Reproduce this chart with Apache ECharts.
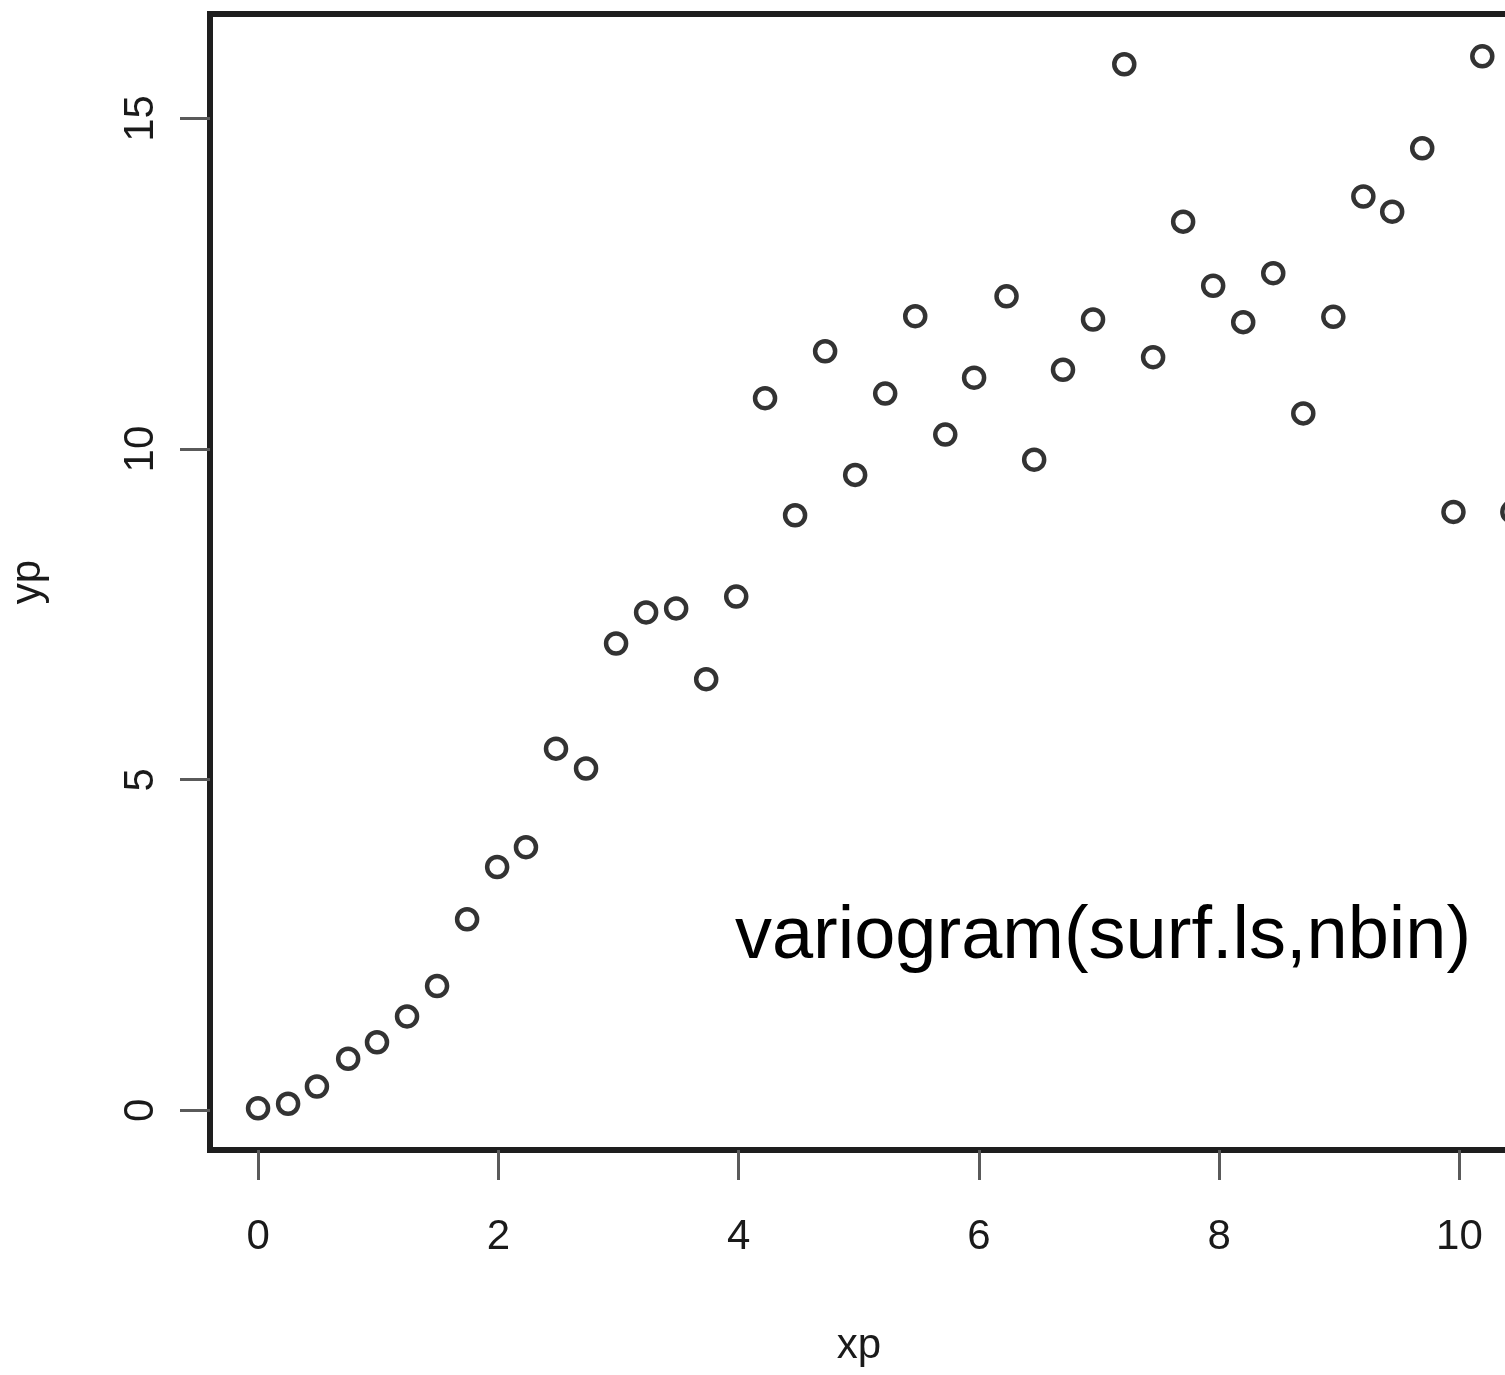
<!DOCTYPE html>
<html>
<head>
<meta charset="utf-8">
<script src="https://cdn.jsdelivr.net/npm/echarts@6/dist/echarts.min.js"></script>
<style>
  html, body { margin: 0; padding: 0; background: #ffffff; }
  #chart { width: 1505px; height: 1375px; }
</style>
</head>
<body>
<div id="chart"></div>
<script>
// Data
const xp = [0.00, 0.25, 0.49, 0.75, 0.99, 1.24, 1.49, 1.74, 1.99, 2.23,
            2.48, 2.73, 2.98, 3.23, 3.48, 3.73, 3.98, 4.22, 4.47, 4.72,
            4.97, 5.22, 5.47, 5.72, 5.96, 6.23, 6.46, 6.70, 6.95, 7.21,
            7.45, 7.70, 7.95, 8.20, 8.45, 8.70, 8.95, 9.20, 9.44, 9.69,
            9.95, 10.19, 10.44];
const yp = [0.03, 0.10, 0.36, 0.78, 1.03, 1.42, 1.88, 2.89, 3.68, 3.98,
            5.47, 5.17, 7.06, 7.53, 7.59, 6.52, 7.77, 10.77, 9.00, 11.48,
            9.61, 10.84, 12.01, 10.22, 11.08, 12.31, 9.84, 11.20, 11.96, 15.82,
            11.39, 13.44, 12.47, 11.92, 12.66, 10.54, 12.00, 13.82, 13.59, 14.55,
            9.05, 15.94, 9.05];
const xTicks = [0, 2, 4, 6, 8, 10];
const yTicks = [0, 5, 10, 15];
const xName = 'xp';
const yName = 'yp';
const annotation = 'variogram(surf.ls,nbin)';

const points = xp.map((x, i) => [x, yp[i]]);
const FONT = '"Liberation Sans", Arial, Helvetica, sans-serif';

const chart = echarts.init(document.getElementById('chart'), null, { renderer: 'canvas' });
chart.setOption({
  backgroundColor: '#ffffff',
  animation: false,
  grid: {
    left: 210, top: 14, width: 1360, height: 1136,
    outerBoundsMode: 'none',
    containLabel: false,
    show: true, borderColor: '#1e1e1e', borderWidth: 6, backgroundColor: 'transparent'
  },
  xAxis: {
    type: 'value', min: -0.4, max: 10.92,
    axisLine: { show: false, onZero: false },
    splitLine: { show: false },
    axisTick: { show: true, customValues: xTicks, length: 30, lineStyle: { color: '#5a5a5a', width: 3 } },
    axisLabel: { show: true, customValues: xTicks, margin: 66, fontSize: 42, fontFamily: FONT, color: '#1a1a1a' }
  },
  yAxis: {
    type: 'value', min: -0.6, max: 16.58,
    axisLine: { show: false, onZero: false },
    splitLine: { show: false },
    axisTick: { show: true, customValues: yTicks, length: 30, lineStyle: { color: '#5a5a5a', width: 3 } },
    axisLabel: { show: true, customValues: yTicks, rotate: 90, margin: 48, fontSize: 42, fontFamily: FONT, color: '#1a1a1a' }
  },
  series: [{
    type: 'scatter',
    data: points,
    symbol: 'circle',
    symbolSize: 20,
    itemStyle: { color: 'rgba(0,0,0,0)', borderColor: '#000000', borderWidth: 4.5 },
    emphasis: { disabled: true }
  }],
  graphic: [
    { type: 'text', x: 859, y: 1346, style: { text: xName, font: '42px ' + FONT, fill: '#1a1a1a', textAlign: 'center', textVerticalAlign: 'middle' } },
    { type: 'text', x: 28, y: 582, rotation: Math.PI / 2, style: { text: yName, font: '42px ' + FONT, fill: '#1a1a1a', textAlign: 'center', textVerticalAlign: 'middle' } },
    { type: 'text', x: 1103, y: 938, style: { text: annotation, font: '74px ' + FONT, fill: '#000000', textAlign: 'center', textVerticalAlign: 'middle' } }
  ]
});
</script>
</body>
</html>
